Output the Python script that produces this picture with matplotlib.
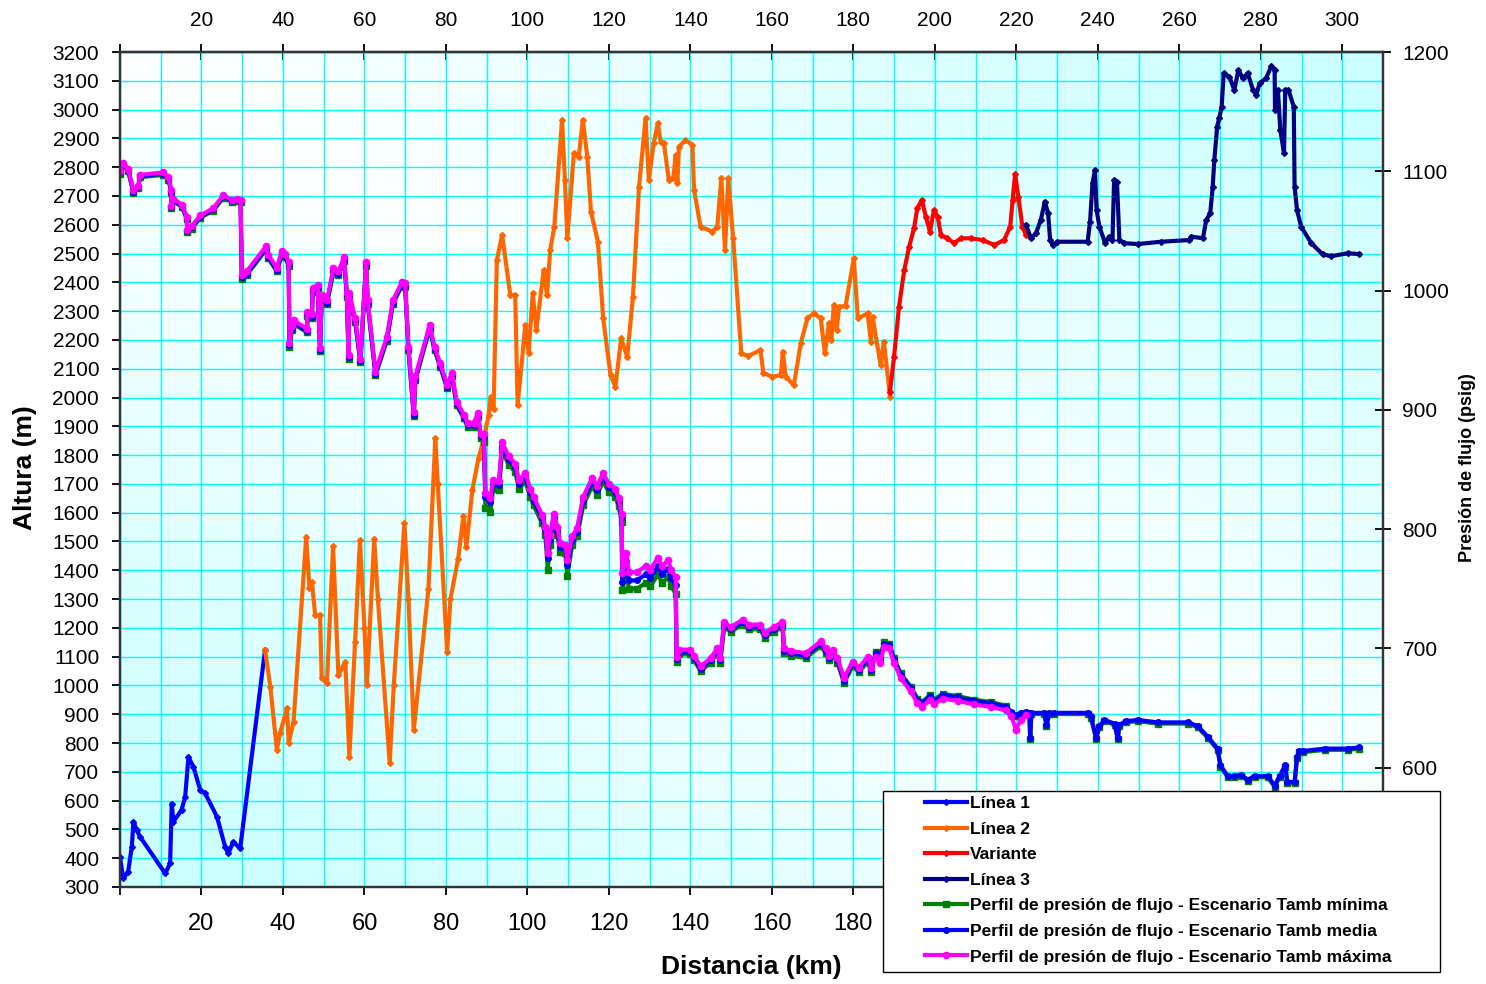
import numpy as np
import matplotlib.pyplot as plt
from matplotlib.patches import Rectangle

plt.rcParams['font.family'] = ['Liberation Sans', 'DejaVu Sans']

# ---- perfil de elevacion (m) ----
l1_km = [0.0, 0.8, 2.0, 2.9, 3.3, 4.1, 4.9, 11.1, 12.3, 12.7, 13.1, 15.1, 16.0, 16.8, 18.0, 19.7,
         20.9, 23.8, 25.8, 26.6, 27.8, 29.5, 35.6]
l1_m = [403, 330, 353, 440, 527, 498, 475, 347, 382, 590, 527, 567, 613, 752, 718, 637,
        625, 544, 440, 417, 457, 434, 1123]

l2_km = [35.6, 36.9, 38.5, 39.3, 41.0, 41.4, 42.6, 45.7, 46.5, 47.1, 47.9, 49.1, 49.5, 50.8, 52.3,
         53.6, 55.3, 56.3, 57.7, 58.9, 60.0, 60.6, 62.4, 63.3, 66.2, 67.2, 69.8, 70.8, 72.1, 75.7,
         77.4, 78.0, 80.3, 81.1, 83.0, 84.3, 85.0, 86.5, 88.0, 89.2, 90.5, 91.0, 91.7, 92.5, 93.8,
         95.8, 97.0, 97.6, 99.5, 100.3, 101.3, 102.2, 104.0, 104.8, 105.6, 106.6, 108.5, 109.2, 109.8,
         111.4, 112.6, 113.6, 114.7, 115.6, 117.3, 118.6, 120.4, 121.6, 123.0, 124.5, 125.9, 127.4,
         129.0, 129.8, 131.0, 132.0, 132.7, 133.5, 134.7, 135.8, 136.4, 136.8, 137.2, 138.8, 140.5,
         140.9, 142.5, 145.4, 146.6, 147.6, 148.5, 149.3, 150.5, 152.5, 154.2, 157.2, 157.9, 160.1,
         162.2, 162.7, 163.4, 165.4, 167.1, 168.7, 170.3, 172.0, 173.0, 174.0, 174.6, 175.2, 175.9,
         176.5, 178.1, 180.1, 181.1, 183.5, 184.3, 184.7, 186.7, 187.5, 189.0]
l2_m = [1123, 996, 776, 835, 921, 800, 874, 1515, 1340, 1360, 1245, 1245, 1025, 1008, 1484,
        1036, 1082, 752, 1152, 1505, 1200, 1001, 1510, 1300, 729, 1001, 1565, 1300, 845, 1335,
        1860, 1700, 1117, 1300, 1440, 1590, 1480, 1680, 1790, 1850, 1940, 2003, 1960, 2478, 2564,
        2356, 2356, 1974, 2252, 2153, 2362, 2234, 2443, 2356, 2512, 2593, 2964, 2756, 2553,
        2848, 2836, 2964, 2836, 2645, 2541, 2275, 2078, 2037, 2205, 2142, 2350, 2732,
        2970, 2756, 2883, 2952, 2889, 2883, 2756, 2761, 2842, 2744, 2871, 2894, 2877,
        2721, 2593, 2576, 2593, 2761, 2512, 2761, 2553, 2153, 2144, 2165, 2086, 2072,
        2078, 2159, 2072, 2043, 2188, 2275, 2292, 2275, 2153, 2258, 2200, 2321, 2234,
        2315, 2318, 2483, 2275, 2292, 2194, 2281, 2113, 2194, 2003]

var_km = [189.0, 190.0, 191.2, 192.5, 193.7, 194.9, 195.7, 196.8, 197.8, 198.8, 199.8, 200.7, 201.5,
          203.1, 204.7, 206.4, 208.8, 211.7, 214.6, 217.0, 218.5, 219.1, 219.7, 220.5, 221.5, 222.4]
var_m = [2020, 2142, 2315, 2443, 2524, 2588, 2657, 2686, 2628, 2576, 2651, 2628, 2564,
         2553, 2536, 2553, 2553, 2547, 2530, 2547, 2593, 2686, 2776, 2697, 2593, 2564]

l3_km = [222.4, 223.6, 224.8, 226.0, 227.0, 227.8, 228.3, 228.9, 230.1, 237.5, 238.1, 238.7, 239.3,
         239.7, 240.4, 241.8, 242.8, 243.6, 244.0, 244.7, 245.3, 246.5, 249.8, 255.5, 262.5, 262.9,
         265.8, 266.6, 267.6, 268.2, 268.6, 269.3, 269.8, 270.4, 270.9, 272.3, 273.5, 274.5, 275.6,
         276.8, 278.1, 278.9, 279.7, 281.3, 282.6, 283.4, 283.5, 284.2, 284.8, 285.7, 286.0, 286.8,
         288.1, 288.3, 288.9, 289.9, 292.4, 295.2, 297.3, 301.4, 304.2]
l3_m = [2599, 2553, 2570, 2616, 2680, 2640, 2547, 2530, 2541, 2541, 2611, 2744, 2790,
        2651, 2593, 2536, 2559, 2547, 2755, 2750, 2547, 2536, 2533, 2541, 2547, 2559,
        2553, 2616, 2640, 2732, 2825, 2941, 2970, 3010, 3126, 3114, 3068, 3137, 3109,
        3126, 3068, 3051, 3091, 3109, 3151, 3137, 2999, 3068, 2929, 2848, 3068, 3068,
        3010, 2732, 2651, 2593, 2536, 2497, 2491, 2501, 2498]

# ---- perfil de presion de flujo (psig) ----
pres_km = [0.0, 0.8, 2.0, 3.3, 4.5, 4.9, 10.6, 11.9, 12.6, 12.6,
           13.1, 15.2, 16.4, 16.5, 17.6, 19.7, 22.9, 25.4, 27.4, 28.7,
           29.6, 29.9, 31.1, 35.8, 36.4, 38.5, 39.7, 40.5, 41.4, 41.6,
           42.2, 42.6, 45.9, 46.0, 47.1, 47.3, 48.5, 49.1, 49.5, 50.8,
           52.4, 53.6, 55.0, 55.7, 56.1, 56.3, 57.7, 59.0, 60.4, 60.8,
           62.7, 65.5, 67.0, 69.2, 70.0, 70.8, 72.1, 72.5, 76.0, 77.2,
           78.6, 80.3, 81.5, 82.6, 84.4, 85.3, 86.8, 87.9, 88.5, 89.3,
           89.7, 90.9, 91.6, 93.0, 93.8, 95.4, 97.0, 97.9, 99.5, 100.7,
           101.5, 103.6, 104.4, 105.0, 105.5, 106.5, 107.3, 108.1, 109.3, 109.8,
           111.0, 112.2, 113.7, 115.9, 117.1, 118.6, 120.0, 121.6, 122.4, 123.1,
           123.3, 124.3, 124.9, 126.9, 129.0, 130.2, 132.0, 133.1, 134.5, 135.3,
           136.4, 136.6, 137.2, 140.0, 140.9, 142.5, 145.0, 146.6, 147.3, 148.3,
           149.9, 152.8, 154.4, 157.2, 158.2, 160.5, 162.6, 163.0, 164.6, 168.3,
           172.0, 173.2, 174.0, 174.9, 176.1, 177.7, 179.8, 181.4, 183.5, 184.4,
           185.5, 186.6, 187.5, 188.8, 190.0, 191.6, 194.1, 195.7, 196.9, 198.8,
           199.8, 201.9, 205.6, 209.7, 213.8, 217.4, 218.8, 219.9, 221.1, 222.4,
           223.2, 223.4, 223.7, 226.9, 227.4, 228.1, 229.3, 237.5, 238.3, 239.6,
           240.4, 241.6, 244.1, 244.9, 245.3, 246.9, 249.8, 254.7, 262.1, 264.5,
           267.0, 269.4, 270.1, 271.9, 273.5, 275.2, 276.8, 278.5, 281.7, 283.4,
           284.6, 286.0, 286.5, 288.3, 288.9, 289.5, 290.3, 295.7, 301.4, 304.2]

# Tamb maxima (termina en el km 222)
pres_max = [1100, 1107, 1102, 1084, 1088, 1097, 1099, 1095, 1084, 1071,
            1077, 1072, 1062, 1051, 1054, 1063, 1069, 1080, 1076, 1077,
            1076, 1013, 1016, 1037, 1030, 1019, 1033, 1031, 1024, 956,
            970, 975, 968, 982, 980, 1002, 1005, 952, 996, 992,
            1019, 1016, 1028, 998, 946, 998, 977, 943, 1024, 992,
            932, 961, 992, 1007, 1006, 953, 898, 928, 971, 953,
            939, 921, 931, 907, 896, 889, 889, 897, 880, 880,
            830, 826, 841, 840, 873, 861, 855, 841, 847, 834,
            827, 812, 802, 780, 795, 813, 802, 788, 787, 774,
            794, 801, 827, 843, 836, 847, 838, 834, 826, 813,
            763, 780, 764, 764, 769, 766, 776, 769, 774, 766,
            760, 693, 699, 699, 694, 685, 692, 700, 692, 722,
            718, 724, 720, 720, 713, 718, 722, 700, 698, 696,
            706, 700, 694, 699, 692, 675, 689, 684, 693, 684,
            693, 688, 701, 700, 688, 675, 664, 654, 651, 657,
            653, 658, 656, 653, 651, 648, 643, 632, 640, 644]

pres_media = [1099, 1106, 1101, 1083, 1087, 1096, 1098, 1094, 1083, 1070,
              1076, 1071, 1061, 1050, 1053, 1062, 1068, 1079, 1075, 1076,
              1075, 1011, 1014, 1035, 1028, 1017, 1031, 1029, 1022, 954,
              968, 973, 966, 980, 978, 1000, 1003, 950, 994, 990,
              1017, 1014, 1026, 996, 944, 996, 975, 941, 1022, 990,
              930, 959, 990, 1005, 1004, 951, 896, 926, 969, 951,
              937, 919, 929, 905, 894, 887, 887, 895, 878, 877,
              827, 823, 838, 837, 870, 858, 852, 838, 844, 831,
              824, 809, 799, 776, 791, 810, 799, 785, 784, 770,
              791, 798, 824, 840, 833, 844, 835, 831, 823, 810,
              756, 773, 757, 757, 762, 759, 769, 762, 767, 759,
              753, 691, 697, 697, 692, 683, 690, 698, 690, 720,
              716, 722, 718, 718, 711, 716, 720, 698, 696, 694,
              704, 698, 692, 697, 690, 673, 687, 682, 691, 682,
              696, 691, 704, 703, 691, 678, 667, 657, 654, 660,
              656, 661, 659, 656, 654, 651, 647, 644, 646, 647,
              646, 625, 646, 646, 636, 646, 646, 646, 643, 625,
              635, 640, 637, 625, 636, 639, 640, 638, 638, 635,
              626, 616, 602, 593, 593, 594, 590, 593, 593, 585,
              593, 602, 588, 588, 609, 614, 614, 616, 616, 617]

pres_min = [1098, 1105, 1100, 1082, 1086, 1095, 1097, 1093, 1082, 1069,
            1075, 1070, 1060, 1049, 1052, 1061, 1067, 1078, 1074, 1075,
            1074, 1010, 1013, 1034, 1027, 1016, 1030, 1028, 1021, 953,
            967, 972, 965, 979, 977, 999, 1002, 949, 993, 989,
            1016, 1013, 1025, 995, 943, 995, 974, 940, 1021, 989,
            929, 958, 989, 1004, 1003, 950, 895, 925, 968, 950,
            936, 918, 928, 904, 893, 886, 886, 894, 876, 873,
            818, 814, 834, 833, 866, 854, 848, 834, 840, 827,
            820, 805, 795, 766, 787, 806, 795, 781, 780, 761,
            787, 794, 820, 836, 829, 840, 831, 827, 819, 806,
            749, 766, 750, 750, 755, 752, 762, 755, 760, 752,
            746, 689, 695, 695, 690, 681, 688, 696, 688, 718,
            714, 720, 716, 716, 709, 714, 718, 696, 694, 692,
            702, 696, 690, 695, 688, 671, 685, 680, 689, 680,
            697, 692, 705, 704, 692, 679, 668, 658, 655, 661,
            657, 662, 660, 657, 655, 652, 646, 643, 645, 646,
            645, 624, 645, 645, 635, 645, 645, 645, 642, 624,
            634, 639, 636, 624, 635, 638, 639, 637, 637, 634,
            625, 615, 601, 592, 592, 593, 589, 592, 592, 584,
            592, 601, 587, 587, 608, 613, 613, 615, 615, 616]

x_ticks = list(range(0, 320, 20))
alt_ticks = list(range(300, 3300, 100))
pres_ticks = list(range(500, 1300, 100))

fig = plt.figure(figsize=(14.86, 9.84), dpi=100)
W, H = 1486, 984
ax1 = fig.add_axes([120 / W, 1 - 887 / H, 1263 / W, 835 / H])

# fondo degradado celeste-blanco
ny, nx = 200, 300
gx, gy = np.meshgrid(np.linspace(0, 1, nx), np.linspace(0, 1, ny))
t = np.clip(np.abs(gx - gy) * 1.1, 0, 1)
cyan = np.array([0.80, 1.0, 1.0])
img = (1 - t)[..., None] * np.array([1.0, 1.0, 1.0]) + t[..., None] * cyan
ax1.imshow(img, extent=(0, 1, 0, 1), transform=ax1.transAxes, aspect='auto',
           zorder=0, interpolation='bilinear')

ax1.plot(l1_km, l1_m, color='#0000ff', lw=3, marker='D', ms=3, label='Línea 1')
ax1.plot(l2_km, l2_m, color='#ff6600', lw=3, marker='D', ms=3, label='Línea 2')
ax1.plot(var_km, var_m, color='#ff0000', lw=3, marker='D', ms=3, label='Variante')
ax1.plot(l3_km, l3_m, color='#000080', lw=3, marker='D', ms=3, label='Línea 3')

ax1.set_xlim(0, 310)
ax1.set_ylim(300, 3200)
# las etiquetas inferiores a partir de 200 quedan tapadas por la leyenda
ax1.set_xticks(x_ticks)
ax1.set_xticklabels(['' if (v == 0 or v > 180) else str(v) for v in x_ticks])
ax1.set_xticks(np.arange(10, 310, 20), minor=True)
ax1.set_yticks(alt_ticks)
ax1.set_axisbelow(True)
ax1.grid(which='both', axis='x', color='#00ffff', lw=1.0)
ax1.grid(which='major', axis='y', color='#00ffff', lw=1.0)
ax1.tick_params(axis='x', which='minor', length=0)
ax1.tick_params(axis='x', which='major', direction='out', length=6, width=1.3,
                labelsize=17, pad=13)
ax1.tick_params(axis='y', direction='out', length=6, width=1.3, labelsize=15, pad=9)
for s in ax1.spines.values():
    s.set_color('#333333')
    s.set_linewidth(1.6)

top = ax1.secondary_xaxis('top')
top.set_xticks(x_ticks)
top.set_xticklabels(['' if v == 0 else str(v) for v in x_ticks])
top.tick_params(direction='inout', length=12, width=1.3, labelsize=15, pad=10)
top.spines['top'].set_color('#333333')
top.spines['top'].set_linewidth(1.6)

ax2 = ax1.twinx()
ax2.plot(pres_km, pres_min, color='#008000', lw=3, marker='s', ms=4,
         label='Perfil de presión de flujo - Escenario Tamb mínima')
ax2.plot(pres_km, pres_media, color='#0000ff', lw=3, marker='o', ms=4,
         label='Perfil de presión de flujo - Escenario Tamb media')
ax2.plot(pres_km[:len(pres_max)], pres_max, color='#ff00ff', lw=3, marker='o', ms=4.5,
         label='Perfil de presión de flujo - Escenario Tamb máxima')
ax2.set_ylim(500, 1200)
ax2.set_yticks(pres_ticks)
ax2.set_yticklabels(['' if v == 500 else str(v) for v in pres_ticks])
ax2.tick_params(axis='y', direction='inout', length=12, width=1.3, labelsize=15, pad=8)
for s in ax2.spines.values():
    s.set_color('#333333')
    s.set_linewidth(1.6)

fig.text(25 / W, 1 - 468 / H, 'Altura (m)', rotation=90, ha='center', va='center',
         fontsize=19, fontweight='bold')
fig.text(751 / W, 1 - 967 / H, 'Distancia (km)', ha='center', va='center',
         fontsize=19, fontweight='bold')
fig.text(1468 / W, 1 - 468 / H, 'Presión de flujo (psig)', rotation=90, ha='center',
         va='center', fontsize=13, fontweight='bold')

# leyenda con marco propio
frame = Rectangle((883 / W, 1 - 972 / H), 557 / W, 181 / H, transform=fig.transFigure,
                  facecolor='white', edgecolor='black', lw=1.0, zorder=8)
fig.add_artist(frame)
h1, lab1 = ax1.get_legend_handles_labels()
h2, lab2 = ax2.get_legend_handles_labels()
leg = fig.legend(h1 + h2, lab1 + lab2, loc='upper left',
                 bbox_to_anchor=(925 / W, 1 - 796 / H), frameon=False,
                 prop={'weight': 'bold', 'size': 12.5}, handlelength=2.4,
                 handletextpad=0.2, labelspacing=0.6, borderpad=0, borderaxespad=0)
leg.set_zorder(9)

fig.savefig('out.png', dpi=100)
